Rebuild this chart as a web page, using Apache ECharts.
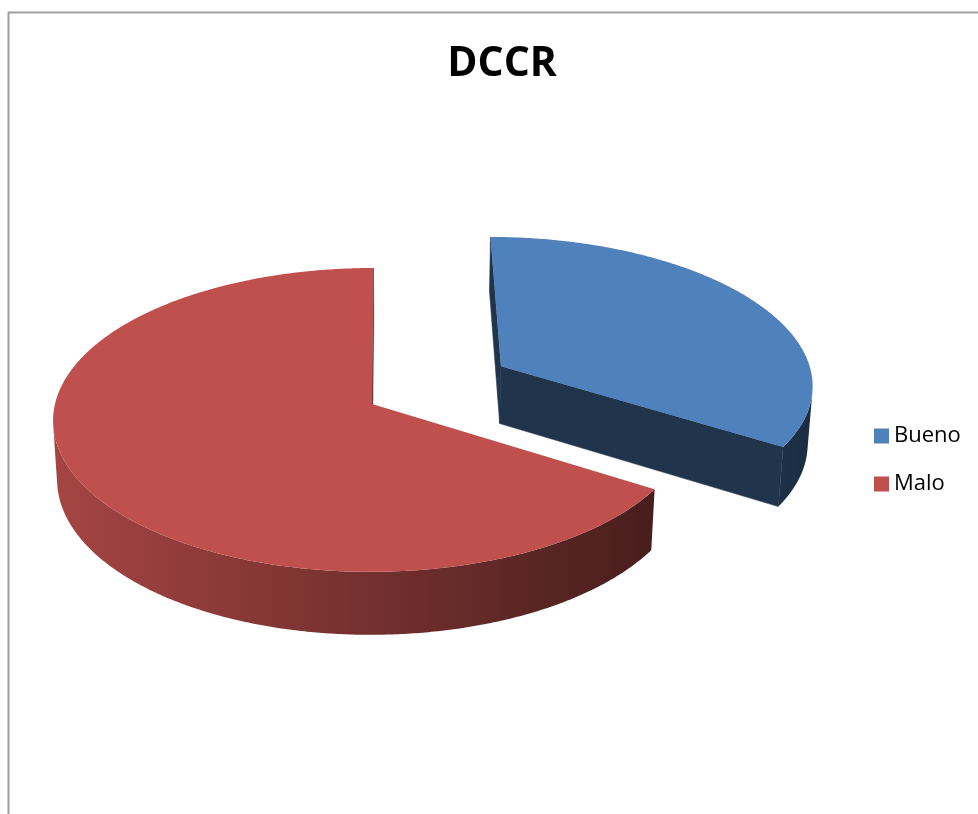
<!DOCTYPE html>
<html>
<head>
<meta charset="utf-8">
<script src="https://cdn.jsdelivr.net/npm/echarts@6/dist/echarts.min.js"></script>
<style>
  html, body { margin: 0; padding: 0; background: #fff; }
  #chart { width: 978px; height: 814px; }
</style>
</head>
<body>
<div id="chart"></div>
<script>
// ---- data ----
const chartTitle = 'DCCR';
const categories = ['Bueno', 'Malo'];
const values = [34, 66];

// ---- style ----
const colors = ['#4F81BD', '#C0504D'];
const explode = [0.49, 0];        // explode distance as a fraction of radius
const explodeTurn = [-3, 0];      // small turn of the explode direction (deg)

// 3D projection parameters (pixels)
const V = {
  apexX: 372, cy: 404,  // screen position of the pie centre
  pxPerR: 317,          // horizontal radius at centre depth
  D: 8.4,               // camera distance in radius units
  sinA: 0.474, cosA: 0.88,
  H: 0.212,             // thickness in radius units
  camX: 0.05
};
V.cx = V.apexX + V.camX * V.pxPerR;
const F = V.pxPerR * V.D;

function proj(X, Z, h) {
  const depth = V.D - (Z * V.cosA + h * V.sinA);
  const s = F / depth;
  return [V.cx + (X - V.camX) * s, V.cy - (h * V.cosA - Z * V.sinA) * s];
}
function shade(hex, f) {
  const n = parseInt(hex.slice(1), 16);
  const r = Math.round(((n >> 16) & 255) * f);
  const g = Math.round(((n >> 8) & 255) * f);
  const b = Math.round((n & 255) * f);
  return 'rgb(' + r + ',' + g + ',' + b + ')';
}
const camPos = [V.camX, V.D * V.sinA, V.D * V.cosA]; // (X, h, Z)
function facing(n, p) {
  return n[0] * (camPos[0] - p[0]) + n[1] * (camPos[1] - p[1]) + n[2] * (camPos[2] - p[2]) > 0;
}
const rad = d => d * Math.PI / 180;

function makeRender(idx) {
  return function (params, api) {
    const total = values.reduce((a, b) => a + b, 0);
    let before = 0;
    for (let k = 0; k < idx; k++) before += values[k];
    const v = api.value(0);
    const t0 = before / total * 360;
    const t1 = (before + v) / total * 360;
    const tm = (t0 + t1) / 2 + explodeTurn[idx];
    const e = explode[idx];
    const ox = e * Math.sin(rad(tm));
    const oz = -e * Math.cos(rad(tm));
    const base = colors[idx];
    const H = V.H;
    const rim = (t, h) => proj(ox + Math.sin(rad(t)), oz - Math.cos(rad(t)), h);
    const children = [];

    // cut walls
    const walls = [
      { t: t0, n: [-Math.cos(rad(t0)), 0, -Math.sin(rad(t0))] },
      { t: t1, n: [Math.cos(rad(t1)), 0, Math.sin(rad(t1))] }
    ];
    walls.forEach(w => {
      if (facing(w.n, [ox, -H / 2, oz])) {
        children.push({
          type: 'polygon',
          shape: { points: [proj(ox, oz, 0), rim(w.t, 0), rim(w.t, -H), proj(ox, oz, -H)] },
          style: { fill: shade(base, 0.4), stroke: shade(base, 0.4), lineWidth: 0.5 }
        });
      }
    });

    // outer wall (visible runs)
    const step = 0.5;
    const ts = [];
    for (let t = t0; t < t1; t += step) ts.push(t);
    ts.push(t1);
    let run = [];
    const runs = [];
    ts.forEach(t => {
      const n = [Math.sin(rad(t)), 0, -Math.cos(rad(t))];
      const p = [ox + n[0], -H / 2, oz + n[2]];
      if (facing(n, p)) run.push(t);
      else if (run.length) { runs.push(run); run = []; }
    });
    if (run.length) runs.push(run);
    const centreX = proj(ox, oz, 0)[0];
    runs.forEach(r => {
      if (r.length < 2) return;
      const pts = r.map(t => rim(t, 0)).concat(r.slice().reverse().map(t => rim(t, -H)));
      let minX = Infinity, maxX = -Infinity;
      pts.forEach(p => { minX = Math.min(minX, p[0]); maxX = Math.max(maxX, p[0]); });
      const stops = [];
      for (let k = 0; k <= 10; k++) {
        const x = minX + (maxX - minX) * k / 10;
        let nx = (x - centreX) / V.pxPerR;
        nx = Math.max(-1, Math.min(1, nx));
        stops.push({ offset: k / 10, color: shade(base, 0.602 - 0.258 * nx) });
      }
      children.push({
        type: 'polygon',
        shape: { points: pts },
        style: {
          fill: { type: 'linear', x: minX, y: 0, x2: maxX, y2: 0, colorStops: stops, global: true }
        }
      });
    });

    // top face
    const top = [proj(ox, oz, 0)];
    ts.forEach(t => top.push(rim(t, 0)));
    children.push({
      type: 'polygon',
      shape: { points: top },
      style: { fill: base }
    });

    return { type: 'group', children: children };
  };
}

const chart = echarts.init(document.getElementById('chart'), null, { renderer: 'canvas' });
chart.setOption({
  animation: false,
  backgroundColor: '#fff',
  title: {
    text: chartTitle,
    left: 497,
    top: 39,
    textAlign: 'center',
    textStyle: { fontFamily: 'Open Sans', fontSize: 41, fontWeight: 'bold', color: '#000' }
  },
  legend: {
    data: categories,
    orient: 'vertical',
    left: 874,
    top: 425,
    padding: 0,
    icon: 'rect',
    itemWidth: 15,
    itemHeight: 15,
    itemGap: 26,
    textStyle: { fontFamily: 'Open Sans', fontSize: 22, color: '#000', lineHeight: 22 }
  },
  graphic: [
    { type: 'line', shape: { x1: 8.5, y1: 12, x2: 8.5, y2: 814 }, style: { stroke: '#a0a0a0', lineWidth: 2 } },
    { type: 'line', shape: { x1: 8, y1: 12.5, x2: 978, y2: 12.5 }, style: { stroke: '#a0a0a0', lineWidth: 2 } }
  ],
  series: categories.map((name, i) => ({
    type: 'custom',
    name: name,
    coordinateSystem: 'none',
    data: [values[i]],
    itemStyle: { color: colors[i] },
    renderItem: makeRender(i)
  }))
});
</script>
</body>
</html>
